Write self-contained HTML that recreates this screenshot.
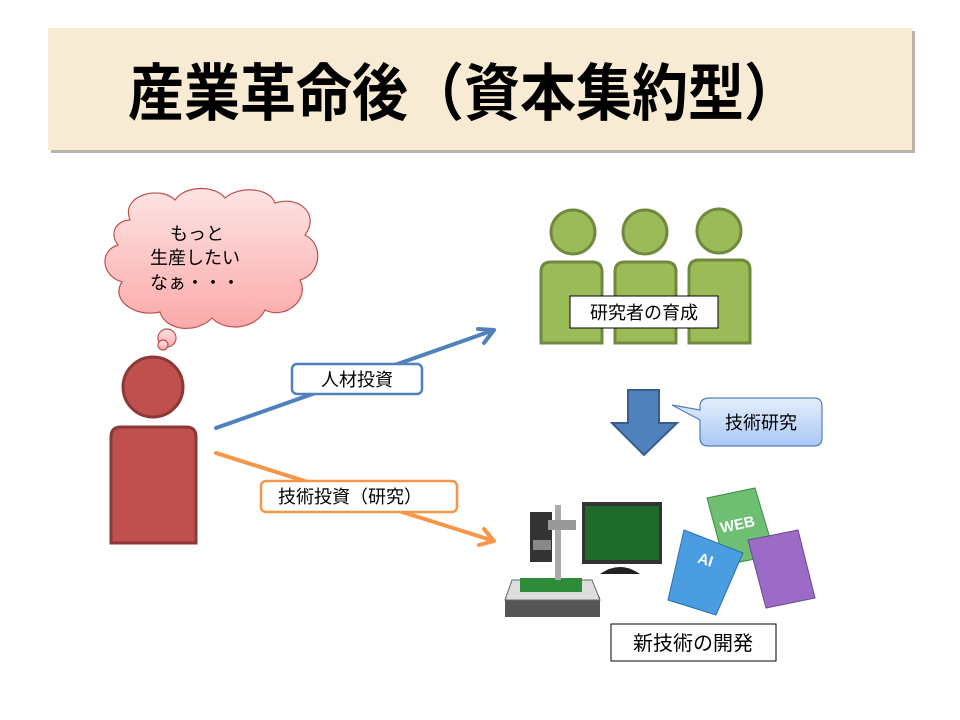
<!DOCTYPE html>
<html><head><meta charset="utf-8"><style>
html,body{margin:0;padding:0;background:#fff;}
svg{display:block;}
text{font-family:"Liberation Sans","Noto Sans CJK JP",sans-serif;}
</style></head><body>
<svg width="960" height="720" viewBox="0 0 960 720" xmlns="http://www.w3.org/2000/svg">
<defs>
<linearGradient id="cl" x1="0" y1="0" x2="0" y2="1"><stop offset="0" stop-color="#fde4e4"/><stop offset="1" stop-color="#fba9a9"/></linearGradient>
<linearGradient id="cb" x1="0" y1="0" x2="0" y2="1"><stop offset="0" stop-color="#e4eefb"/><stop offset="1" stop-color="#a9c8f5"/></linearGradient>
</defs>
<!-- banner -->
<rect x="51" y="31" width="864" height="122" fill="#b8b2a8"/>
<rect x="48" y="28" width="864" height="122" fill="#f8ebd3"/>
<text x="128" y="115" font-size="62" font-weight="bold" textLength="672" lengthAdjust="spacingAndGlyphs">産業革命後（資本集約型）</text>

<!-- cloud -->
<g fill="url(#cl)" stroke="#c0504d" stroke-width="1.2">
<path d="M130 220 C120 195 160 185 175 200 C185 185 215 185 225 198 C240 185 270 188 275 203 C300 195 320 215 305 235 C325 245 320 275 300 280 C310 300 285 320 265 310 C255 330 225 332 212 318 C195 335 165 330 160 312 C135 318 110 300 122 282 C100 275 100 250 118 245 C108 232 118 220 130 220 Z"/>
<circle cx="167" cy="338" r="9"/>
<circle cx="163" cy="345" r="5"/>
</g>
<text font-size="18" fill="#000"><tspan x="170" y="240">もっと</tspan><tspan x="150" y="264">生産したい</tspan><tspan x="150" y="289">なぁ・・・</tspan></text>

<!-- red person -->
<circle cx="153" cy="387" r="30" fill="#c0504d" stroke="#8c3836" stroke-width="3"/>
<path d="M111 543 V437 Q111 427 121 427 H186 Q196 427 196 437 V543 Z" fill="#c0504d" stroke="#8c3836" stroke-width="3"/>

<!-- arrows -->
<g fill="none" stroke-width="4" stroke-linecap="round" stroke-linejoin="round">
<path d="M216 428 L494 330 M478 329 L494 330 L484 343" stroke="#4f81bd"/>
<path d="M216 453 L494 541 M484 529 L494 541 L479 545" stroke="#f79646"/>
</g>
<rect x="292" y="364" width="130" height="30" rx="5" fill="#fff" stroke="#4f81bd" stroke-width="2.5"/>
<text x="357" y="386" font-size="18" text-anchor="middle">人材投資</text>
<rect x="261" y="481" width="196" height="31" rx="5" fill="#fff" stroke="#f79646" stroke-width="2.5"/>
<text x="350" y="503" font-size="18" text-anchor="middle">技術投資（研究）</text>

<!-- green people -->
<g fill="#9bbb59" stroke="#71893f" stroke-width="3">
<circle cx="573" cy="232" r="22"/><circle cx="645" cy="232" r="22"/><circle cx="719" cy="231" r="22"/>
<path d="M541 343 V272 Q541 262 551 262 H592 Q602 262 602 272 V343 Z"/>
<path d="M615 343 V272 Q615 262 625 262 H666 Q676 262 676 272 V343 Z"/>
<path d="M689 343 V270 Q689 260 699 260 H740 Q750 260 750 270 V343 Z"/>
</g>
<rect x="570" y="296" width="148" height="32" fill="#fff" stroke="#000" stroke-width="1"/>
<text x="644" y="319" font-size="18" text-anchor="middle">研究者の育成</text>

<!-- down arrow -->
<path d="M628 390 H659 V423 H677 L644 455 L612 423 H628 Z" fill="#4f81bd" stroke="#385d8a" stroke-width="2"/>
<!-- callout -->
<path d="M710 398 H814 Q822 398 822 406 V438 Q822 446 814 446 H708 Q700 446 700 438 V420 L672 405 L700 410 V406 Q700 398 710 398 Z" fill="url(#cb)" stroke="#4f81bd" stroke-width="1.2"/>
<text x="761" y="429" font-size="18" text-anchor="middle">技術研究</text>

<!-- microscope -->
<g>
<rect x="505" y="597" width="95" height="20" fill="#555"/>
<path d="M512 580 H592 L600 600 H505 Z" fill="#ddd" stroke="#666"/>
<rect x="520" y="578" width="62" height="14" fill="#2e8b3a"/>
<rect x="555" y="505" width="6" height="75" fill="#aaa"/>
<rect x="530" y="512" width="22" height="50" fill="#333"/>
<rect x="533" y="540" width="18" height="10" fill="#888"/>
<rect x="548" y="520" width="28" height="10" fill="#999"/>
<rect x="582" y="502" width="80" height="62" fill="#333"/>
<rect x="585" y="506" width="74" height="54" fill="#1f6b2c"/>
<path d="M600 574 Q620 560 640 574 Z" fill="#222"/>
</g>
<!-- books -->
<g>
<path d="M707 498 L755 488 L775 555 L725 565 Z" fill="#6fbf73" stroke="#3c8a40"/>
<text x="720" y="530" font-size="15" font-weight="bold" fill="#fff" transform="rotate(-12 735 525)">WEB</text>
<path d="M684 530 L743 553 L716 615 L668 600 Z" fill="#4a9de0" stroke="#2a6fb0"/>
<text x="698" y="565" font-size="15" font-weight="bold" fill="#fff" transform="rotate(18 706 560)">AI</text>
<path d="M748 540 L798 530 L815 598 L766 608 Z" fill="#9b6bc6" stroke="#6c4894"/>
</g>
<rect x="611" y="624" width="165" height="37" fill="#fff" stroke="#000" stroke-width="1"/>
<text x="693" y="650" font-size="20" text-anchor="middle">新技術の開発</text>
</svg>
</body></html>
